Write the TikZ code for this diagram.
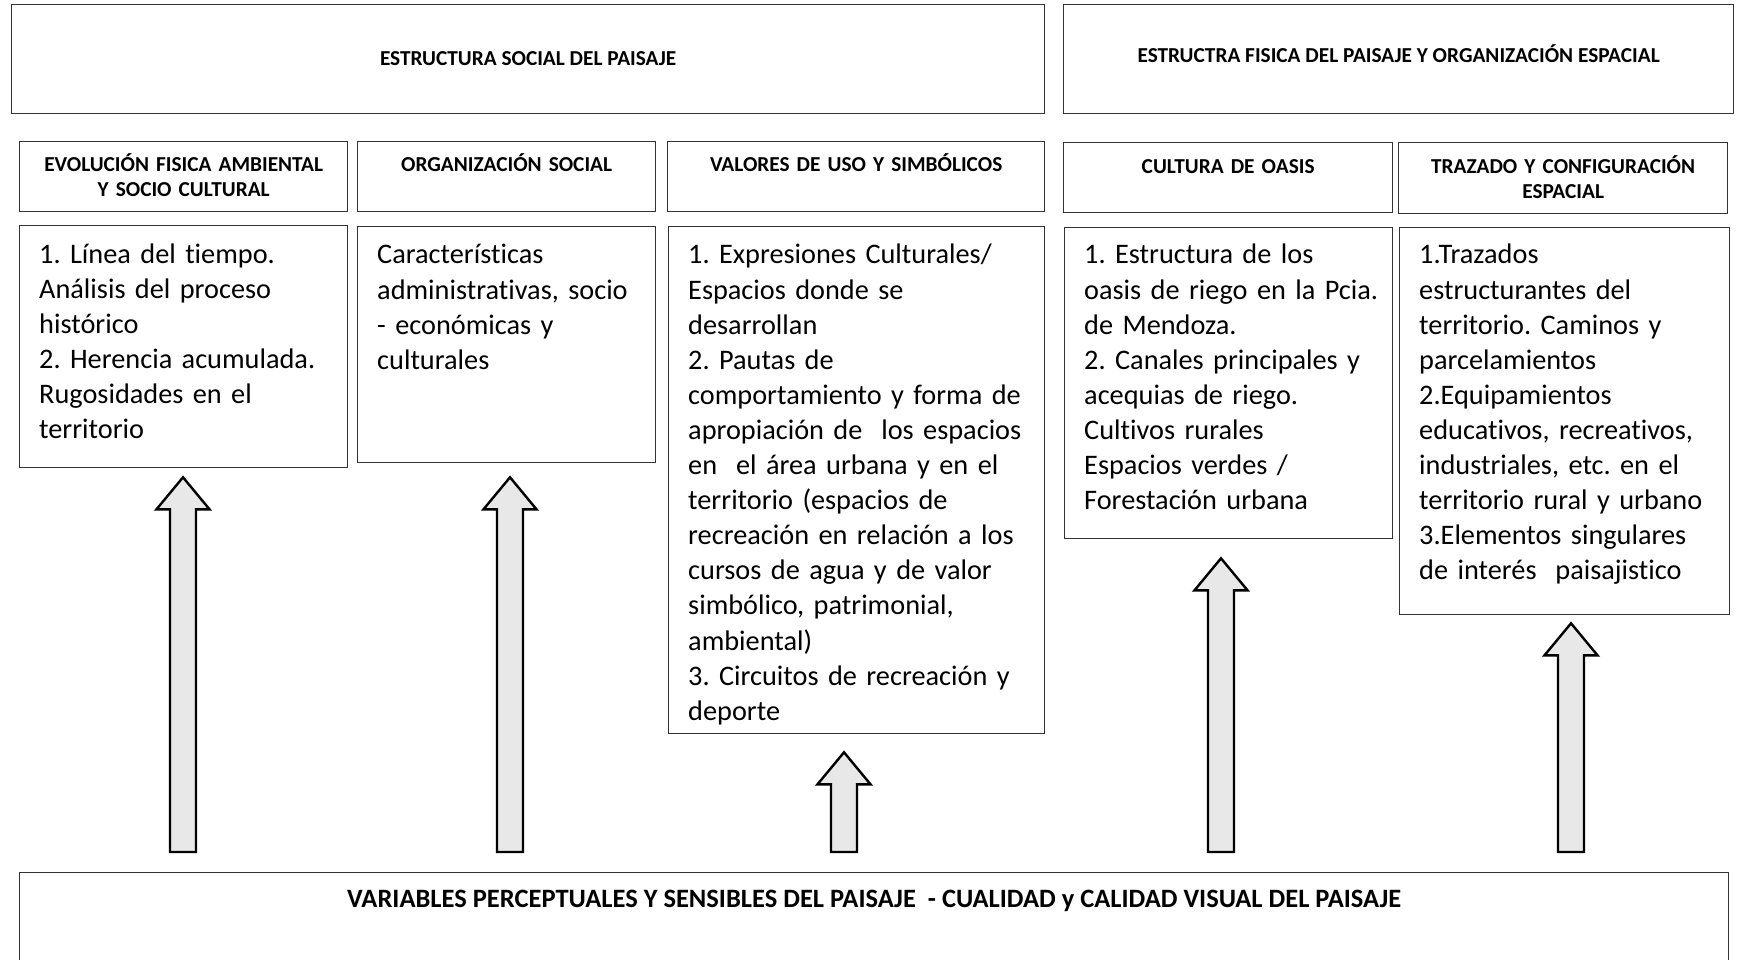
\documentclass[tikz,border=0pt]{standalone}
\usepackage{fontspec}
\setmainfont{Carlito}[Ligatures=NoCommon]
\usetikzlibrary{calc}
\frenchspacing

\tikzset{
  box/.style={draw=black!80, line width=1.3pt, anchor=north west, inner sep=0pt},
  headtxt/.style={font=\bfseries\fontsize{21.3}{24.5}\selectfont, align=center, anchor=base, inner sep=0pt},
  bodytxt/.style={font=\fontsize{28.3}{35.1}\selectfont, align=left, anchor=base west, inner sep=0pt},
  blockarrow/.style={draw=black, fill=gray!18, line width=2.4pt, line join=miter},
}

% block arrow from the bottom box up to a column box: target, x, gap
\newcommand\liftarrow[3]{%
  \draw[blockarrow] let \p1=($(#1.south -| #2,0)+(0,#3)$), \p2=($(var.north -| #2,0)+(0,-20)$) in
    (\x1,\y1) -- (\x1+26.5pt,\y1-32pt) -- (\x1+13pt,\y1-32pt) -- (\x1+13pt,\y2)
    -- (\x1-13pt,\y2) -- (\x1-13pt,\y1-32pt) -- (\x1-26.5pt,\y1-32pt) -- cycle;}

\begin{document}
\begin{tikzpicture}[x=1pt, y=-1pt]
  \clip (0,0) rectangle (1738,960);

  % top boxes
  \node[box, minimum width=1033, minimum height=109] (social) at (11,4) {};
  \node[box, minimum width=670, minimum height=109] (fisica) at (1063,4) {};
  \node[headtxt] (socialtxt) at ($(social.north)+(0,61.5)$) {ESTRUCTURA SOCIAL DEL PAISAJE};
  \node[headtxt] (fisicatxt) at ($(fisica.north)+(0,58.5)$) {ESTRUCTRA FISICA DEL PAISAJE Y ORGANIZACIÓN ESPACIAL};

  % column headers
  \node[box, minimum width=328, minimum height=70] (h1) at (19,141) {};
  \node[box, minimum width=298, minimum height=70] (h2) at (357,141) {};
  \node[box, minimum width=377, minimum height=70] (h3) at (667,141) {};
  \node[box, minimum width=329, minimum height=70] (h4) at (1063,142) {};
  \node[box, minimum width=329, minimum height=71] (h5) at (1398,142) {};
  \node[headtxt, text width=320] (h1txt) at ($(h1.north)+(0,31)$) {EVOLUCIÓN FISICA AMBIENTAL\\ Y SOCIO CULTURAL};
  \node[headtxt, text width=290] (h2txt) at ($(h2.north)+(0,31)$) {ORGANIZACIÓN SOCIAL};
  \node[headtxt, text width=370] (h3txt) at ($(h3.north)+(0,31)$) {VALORES DE USO Y SIMBÓLICOS};
  \node[headtxt, text width=320] (h4txt) at ($(h4.north)+(0,32)$) {CULTURA DE OASIS};
  \node[headtxt, text width=320] (h5txt) at ($(h5.north)+(0,32)$) {TRAZADO Y CONFIGURACIÓN\\ ESPACIAL};

  % column contents
  \node[box, minimum width=328, minimum height=242] (c1) at (19,225) {};
  \node[box, minimum width=298, minimum height=236] (c2) at (357,226) {};
  \node[box, minimum width=376, minimum height=507] (c3) at (668,226) {};
  \node[box, minimum width=328, minimum height=311] (c4) at (1064,227) {};
  \node[box, minimum width=330, minimum height=387] (c5) at (1399,227) {};
  \node[bodytxt, text width=320] (c1txt) at ($(c1.north west)+(20,38)$)
    {1. Línea del tiempo.\\ Análisis del proceso\\ histórico\\ 2. Herencia acumulada.\\ Rugosidades en el\\ territorio};
  \node[bodytxt, text width=290] (c2txt) at ($(c2.north west)+(20,38)$)
    {Características\\ administrativas, socio\\ - económicas y\\ culturales};
  \node[bodytxt, text width=370] (c3txt) at ($(c3.north west)+(20,38)$)
    {1. Expresiones Culturales/\\ Espacios donde se\\ desarrollan\\ 2. Pautas de\\ comportamiento y forma de\\ apropiación de\ \ los espacios\\ en\ \ el área urbana y en el\\ territorio (espacios de\\ recreación en relación a los\\ cursos de agua y de valor\\ simbólico, patrimonial,\\ ambiental)\\ 3. Circuitos de recreación y\\ deporte};
  \node[bodytxt, text width=320] (c4txt) at ($(c4.north west)+(20,37)$)
    {1. Estructura de los\\ oasis de riego en la Pcia.\\ de Mendoza.\\ 2. Canales principales y\\ acequias de riego.\\ Cultivos rurales\\ Espacios verdes /\\ Forestación urbana};
  \node[bodytxt, text width=320] (c5txt) at ($(c5.north west)+(20,37)$)
    {1.Trazados\\ estructurantes del\\ territorio. Caminos y\\ parcelamientos\\ 2.Equipamientos\\ educativos, recreativos,\\ industriales, etc. en el\\ territorio rural y urbano\\ 3.Elementos singulares\\ de interés\ \ paisajistico};

  % bottom box
  \node[box, minimum width=1709, minimum height=200] (var) at (19,872) {};
  \node[headtxt, font=\bfseries\fontsize{26.5}{30}\selectfont] (vartxt) at ($(var.north)+(0,35)$)
    {VARIABLES PERCEPTUALES Y SENSIBLES DEL PAISAJE\ \ - CUALIDAD y CALIDAD VISUAL DEL PAISAJE};

  % arrows
  \liftarrow{c1}{183}{9}
  \liftarrow{c2}{510}{14}
  \liftarrow{c3}{844}{18}
  \liftarrow{c4}{1221}{19}
  \liftarrow{c5}{1571}{8}
\end{tikzpicture}
\end{document}
